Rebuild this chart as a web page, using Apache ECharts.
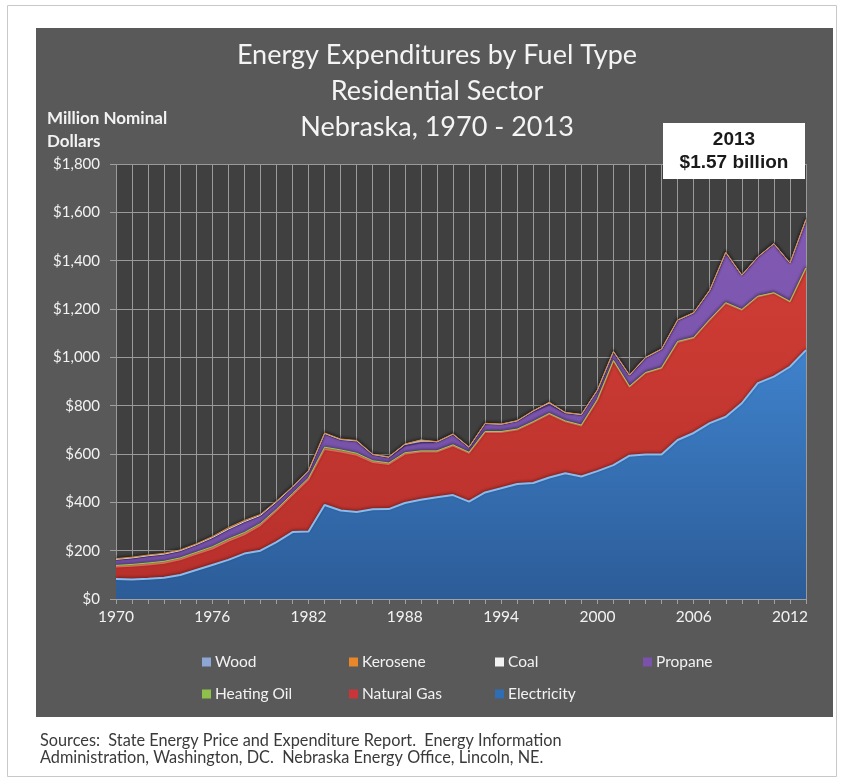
<!DOCTYPE html>
<html>
<head>
<meta charset="utf-8">
<script src="https://cdn.jsdelivr.net/npm/echarts@6/dist/echarts.min.js"></script>
<style>
html,body{margin:0;padding:0;background:#ffffff;}
#chart{width:844px;height:783px;}
</style>
</head>
<body>
<div id="chart"></div>
<script>
const years = ['1970','1971','1972','1973','1974','1975','1976','1977','1978','1979',
  '1980','1981','1982','1983','1984','1985','1986','1987','1988','1989',
  '1990','1991','1992','1993','1994','1995','1996','1997','1998','1999',
  '2000','2001','2002','2003','2004','2005','2006','2007','2008','2009',
  '2010','2011','2012','2013'];

const electricity = [83,81,84,88,99,120,141,162,188,200,
  235,277,279,389,366,360,371,372,397,411,
  421,430,403,441,458,476,480,503,520,507,
  529,554,593,598,598,658,687,728,754,810,
  893,920,961,1030];
const naturalGas = [50,56,58,61,64,66,67,78,79,105,
  130,153,216,231,243,236,195,186,203,198,
  188,204,201,249,232,224,251,262,214,210,
  294,431,285,337,357,404,393,426,470,386,
  358,346,269,339];
const heatingOil = [6,6,7,7,7,7,8,8,8,7,
  6,6,6,8,8,7,6,5,5,4,
  4,4,3,3,3,3,3,3,3,3,
  3,2,2,2,2,4,2,2,2,2,
  2,1,1,1];
const propane = [23,25,28,28,28,30,36,39,43,32,
  30,26,28,56,42,50,25,22,29,34,
  36,43,20,32,29,33,41,37,32,42,
  37,36,45,61,76,87,101,120,207,142,
  163,203,159,200];
const coal = [2,2,2,2,2,2,2,2,2,2,
  1,1,1,1,1,1,1,2,6,10,
  1,1,1,1,1,1,3,8,2,1,
  1,1,1,1,1,1,1,1,1,0,
  0,0,0,0];
const kerosene = [3,3,3,3,3,3,4,6,5,4,
  3,2,2,2,2,2,1,1,1,1,
  1,1,1,1,1,1,1,1,1,1,
  1,1,1,1,1,1,1,1,1,0,
  0,0,0,0];
const wood = [0,0,0,0,0,0,0,0,0,0,
  0,0,0,0,0,0,0,0,0,0,
  0,0,0,0,0,0,0,0,0,0,
  0,0,0,0,0,0,0,0,0,0,
  0,0,0,0];

const yTicks = [0,200,400,600,800,1000,1200,1400,1600,1800];
const legendRow1 = ['Wood','Kerosene','Coal','Propane'];
const legendRow2 = ['Heating Oil','Natural Gas','Electricity'];

const FONT = 'Lato';

function grad(top, bottom){
  return new echarts.graphic.LinearGradient(0,0,0,1,[{offset:0,color:top},{offset:1,color:bottom}]);
}

const seriesDefs = [
  {name:'Electricity', data:electricity, fill:grad('#3f82cc','#2c5c98'), line:'#86bcf0', lw:2, icon:'#2f6db5'},
  {name:'Natural Gas', data:naturalGas, fill:grad('#cf3d35','#b8302c'), line:'#e8675e', lw:1.5, icon:'#c9363a'},
  {name:'Heating Oil', data:heatingOil, fill:'#8ab43c', line:'#9fcc4a', lw:1, icon:'#8fc14a'},
  {name:'Propane', data:propane, fill:grad('#8159b3','#7450a6'), line:'#4a2f72', lw:1.5, icon:'#7a52ab'},
  {name:'Coal', data:coal, fill:'#f0f0f0', line:'#e8e8e8', lw:1, icon:'#f2f2f2'},
  {name:'Kerosene', data:kerosene, fill:'#e58a2c', line:'#d98a3a', lw:1, icon:'#e8862a'},
  {name:'Wood', data:wood, fill:'#8fa9d6', line:'rgba(0,0,0,0)', lw:0, icon:'#8ea6d4'}
];

const series = seriesDefs.map(d => ({
  name: d.name,
  type: 'line',
  stack: 'total',
  data: d.data,
  symbol: 'none',
  smooth: false,
  color: d.icon,
  lineStyle: {color: d.line, width: d.lw, shadowColor:'rgba(0,0,0,0.45)', shadowBlur: d.lw ? 3 : 0, shadowOffsetY: -1},
  areaStyle: {color: d.fill, opacity: 1},
  emphasis: {disabled: true},
  z: 2
}));

const iconX = [197, 344, 490, 638];
const legends = [];
legendRow1.forEach((n,i) => legends.push({data:[n], left:iconX[i], top:649}));
legendRow2.forEach((n,i) => legends.push({data:[n], left:iconX[i], top:681}));
legends.forEach(l => {
  l.itemWidth = 9; l.itemHeight = 9; l.icon = 'rect'; l.itemGap = 0;
  l.selectedMode = false;
  l.textStyle = {color:'#f2f2f2', fontFamily:FONT, fontSize:15.5, padding:[0,0,0,-1]};
});

const chart = echarts.init(document.getElementById('chart'), null, {renderer:'canvas'});
chart.setOption({
  animation: false,
  backgroundColor: '#ffffff',
  title: [{
    text: 'Energy Expenditures by Fuel Type\nResidential Sector\nNebraska, 1970 - 2013',
    left: 432, top: 32, textAlign: 'center',
    textStyle: {color:'#f4f4f4', fontFamily:FONT, fontSize:27, fontWeight:'normal', lineHeight:36}
  },{
    text: 'Sources:  State Energy Price and Expenditure Report.  Energy Information\nAdministration, Washington, DC.  Nebraska Energy Office, Lincoln, NE.',
    left: 35, top: 727,
    textStyle: {color:'#3a3a3a', fontFamily:FONT, fontSize:16.3, fontWeight:'normal', lineHeight:17}
  }],
  legend: legends,
  graphic: [
    {type:'rect', z:-10, shape:{x:7.5,y:5.5,width:829,height:771}, style:{fill:'#ffffff', stroke:'#c8c8c8', lineWidth:1}},
    {type:'rect', z:-5, shape:{x:36,y:28,width:797,height:689}, style:{fill:'#595959'}},
    {type:'text', left:47, top:107, z:10, style:{text:'Million Nominal\nDollars', fill:'#f2f2f2', font:'bold 17px Lato', lineHeight:23}},
    {type:'rect', z:10, shape:{x:663,y:123,width:142,height:56}, style:{fill:'#ffffff'}},
    {type:'text', z:11, x:734, y:151, style:{text:'2013\n$1.57 billion', fill:'#1a1a1a', font:'bold 19px "Liberation Sans", Arial', align:'center', verticalAlign:'middle', lineHeight:23}}
  ],
  grid: {left:116, right:38, top:164, bottom:184, show:true, backgroundColor:'#404040', borderWidth:0, containLabel:false},
  xAxis: {
    type:'category', data: years, boundaryGap:false,
    axisLine:{show:true, lineStyle:{color:'#a0a0a0', width:1}},
    axisTick:{show:true, interval:0, length:5, lineStyle:{color:'#a0a0a0'}},
    axisLabel:{interval:5, color:'#f2f2f2', fontFamily:FONT, fontSize:15.5, margin:10},
    splitLine:{show:true, interval:0, lineStyle:{color:'#9a9a9a', width:1}}
  },
  yAxis: {
    type:'value', min:yTicks[0], max:yTicks[yTicks.length-1], interval:200,
    axisLine:{show:false},
    axisTick:{show:true, length:6, lineStyle:{color:'#a0a0a0'}},
    axisLabel:{color:'#f2f2f2', fontFamily:FONT, fontSize:15, margin:16,
      formatter: v => '$' + v.toLocaleString('en-US')},
    splitLine:{show:true, lineStyle:{color:'#9a9a9a', width:1}}
  },
  series: series
});
</script>
</body>
</html>
